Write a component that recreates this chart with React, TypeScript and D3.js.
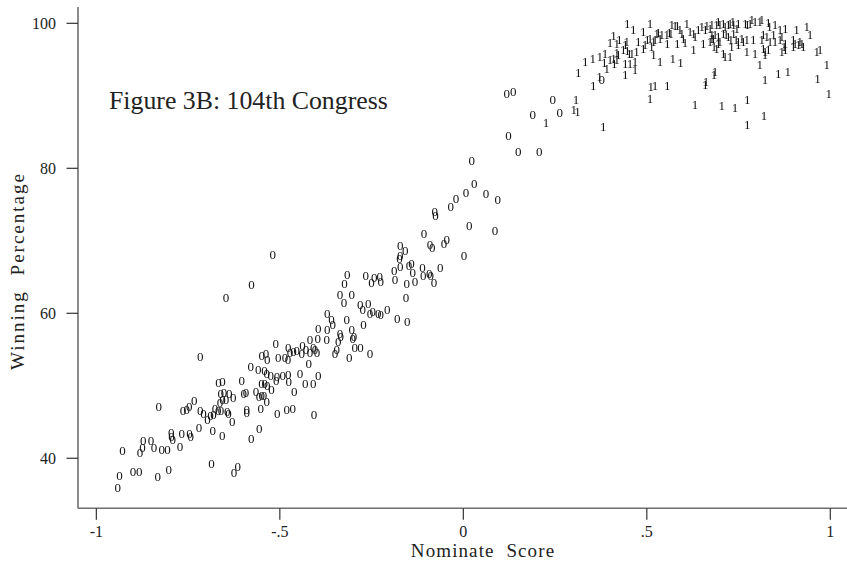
import React from 'react';
import * as d3 from 'd3';

const W = 847;
const H = 563;

// Democrats ("0") : nominate score, winning percentage
const demNominate = [
  -0.942, -0.937, -0.929, -0.900, -0.883, -0.881, -0.874, -0.872, -0.851, -0.843,
  -0.833, -0.830, -0.822, -0.806, -0.803, -0.796, -0.795, -0.792, -0.772, -0.767,
  -0.764, -0.754, -0.747, -0.746, -0.743, -0.733, -0.720, -0.717, -0.717, -0.708,
  -0.697, -0.689, -0.681, -0.683, -0.686, -0.677, -0.668, -0.660, -0.663, -0.656,
  -0.661, -0.652, -0.647, -0.638, -0.627, -0.643, -0.640, -0.630, -0.657, -0.667,
  -0.656, -0.625, -0.615, -0.604, -0.598, -0.592, -0.590, -0.590, -0.578, -0.565,
  -0.557, -0.556, -0.552, -0.549, -0.543, -0.550, -0.541, -0.534, -0.536, -0.523,
  -0.510, -0.507, -0.481, -0.476, -0.465, -0.461, -0.431, -0.409, -0.407, -0.647,
  -0.577, -0.519,
  -0.579, -0.559, -0.542, -0.536, -0.525, -0.508, -0.492, -0.477, -0.445, -0.421,
  -0.395, -0.549, -0.538, -0.534, -0.511, -0.504, -0.486, -0.478, -0.472, -0.477,
  -0.463, -0.454, -0.440, -0.438, -0.429, -0.418, -0.397, -0.409, -0.404, -0.399,
  -0.418, -0.395, -0.371, -0.359, -0.356, -0.371, -0.372, -0.336, -0.334, -0.341,
  -0.345, -0.350, -0.318, -0.304, -0.298, -0.301, -0.296, -0.280, -0.311, -0.254,
  -0.336, -0.325, -0.304, -0.281, -0.274, -0.259, -0.254, -0.247, -0.232, -0.225,
  -0.207, -0.180, -0.272, -0.316, -0.324, -0.266, -0.250, -0.243, -0.228, -0.225,
  -0.186,
  0.150, 0.207, 0.023, 0.030, 0.007, -0.020, -0.034, 0.062, 0.094, -0.078,
  -0.076, 0.016, 0.086, -0.107, -0.091, -0.085, -0.053, -0.045, 0.002, -0.172,
  -0.172, -0.174, -0.158, -0.172, -0.188, -0.148, -0.141, -0.138, -0.111, -0.109,
  -0.093, -0.089, -0.080, -0.063, -0.132, -0.154, -0.156, -0.153,
  0.118, 0.136, 0.244, 0.189, 0.263, 0.123, 0.377,
];
const demWinPct = [
  36.0, 37.55, 41.05, 38.1, 38.1, 40.73, 41.5, 42.45, 42.45, 41.42,
  37.42, 47.11, 41.21, 41.21, 38.48, 43.49, 42.98, 42.52, 41.6, 43.39,
  46.56, 46.73, 47.11, 43.44, 43.0, 47.94, 44.2, 46.56, 54.07, 46.2,
  45.32, 45.9, 45.97, 43.8, 39.28, 46.89, 46.56, 46.56, 47.67, 48.13,
  48.96, 49.04, 48.13, 48.96, 48.41, 46.42, 46.11, 45.07, 43.07, 50.42,
  50.52, 37.97, 38.84, 50.66, 48.87, 49.04, 46.66, 46.29, 42.66, 49.18,
  48.49, 44.13, 46.89, 48.59, 48.63, 50.34, 50.24, 50.07, 47.8, 49.42,
  50.66, 46.2, 46.75, 50.56, 46.89, 49.18, 50.24, 50.34, 46.01, 62.2,
  64.0, 68.08,
  52.63, 52.18, 52.04, 51.62, 51.42, 51.21, 51.35, 51.56, 51.72, 53.07,
  51.35, 54.11, 54.48, 53.65, 55.76, 53.93, 53.9, 53.65, 54.56, 55.31,
  54.7, 54.87, 54.48, 55.55, 54.93, 56.41, 56.55, 55.31, 55.0, 54.52,
  54.56, 57.9, 59.9, 59.14, 58.45, 57.69, 56.31, 57.24, 56.73, 56.08,
  54.93, 54.48, 59.17, 57.69, 56.77, 56.45, 55.31, 55.31, 53.93, 54.38,
  62.52, 61.46, 62.52, 61.14, 60.52, 61.38, 60.0, 60.18, 59.9, 59.76,
  60.55, 59.31, 58.45, 65.35, 64.11, 65.14, 64.18, 64.96, 65.04, 64.31,
  64.69,
  82.29, 82.29, 81.04, 77.83, 76.63, 75.86, 74.7, 76.45, 75.69, 74.01,
  73.42, 72.08, 71.35, 71.03, 69.42, 69.1, 69.65, 70.11, 67.9, 69.28,
  67.97, 67.49, 68.59, 66.45, 65.87, 66.52, 66.89, 65.6, 66.34, 65.14,
  65.51, 65.21, 64.22, 66.34, 64.35, 64.13, 62.11, 58.84,
  90.34, 90.56, 89.51, 87.35, 87.67, 84.45, 92.18,
];

// Republicans ("1")
const repNominate = [
  0.225, 0.307, 0.301, 0.311, 0.313, 0.332, 0.353, 0.354, 0.371, 0.372,
  0.381, 0.386, 0.384, 0.391, 0.400, 0.409, 0.411, 0.418, 0.422, 0.409,
  0.425, 0.418, 0.441, 0.445, 0.447, 0.436, 0.441, 0.441, 0.454, 0.452,
  0.459, 0.468, 0.468, 0.472, 0.447, 0.463, 0.477, 0.490, 0.490, 0.495,
  0.501, 0.509, 0.509, 0.513, 0.518, 0.518, 0.536, 0.571, 0.592, 0.527,
  0.531, 0.541, 0.536, 0.522, 0.554, 0.561, 0.565, 0.568, 0.577, 0.583,
  0.556, 0.583, 0.590, 0.595, 0.599, 0.604, 0.609, 0.618, 0.627, 0.631,
  0.640, 0.650, 0.659, 0.663, 0.672, 0.677, 0.681, 0.690, 0.695, 0.695,
  0.683, 0.627, 0.654, 0.672, 0.511, 0.522, 0.556, 0.509, 0.631, 0.686,
  0.683, 0.661, 0.659, 0.677, 0.695, 0.699, 0.708, 0.713, 0.722, 0.727,
  0.734, 0.736, 0.745, 0.749, 0.768, 0.774, 0.781, 0.786, 0.795, 0.808,
  0.813, 0.831, 0.834, 0.849, 0.863, 0.877, 0.908, 0.936, 0.677, 0.686,
  0.699, 0.708, 0.716, 0.722, 0.729, 0.736, 0.743, 0.749, 0.759, 0.763,
  0.772, 0.790, 0.813, 0.817, 0.827, 0.836, 0.845, 0.849, 0.863, 0.868,
  0.877, 0.899, 0.904, 0.917, 0.922, 0.945, 0.690, 0.731, 0.749, 0.817,
  0.822, 0.831, 0.874, 0.877, 0.899, 0.913, 0.926, 0.708, 0.713, 0.727,
  0.772, 0.795, 0.822, 0.868, 0.963, 0.972, 0.808, 0.990, 0.822, 0.858,
  0.884, 0.965, 0.996, 0.704, 0.740, 0.774, 0.819, 0.774, 0.400, 0.418,
];
const repWinPct = [
  86.29, 89.42, 88.13, 87.8, 93.18, 94.7, 95.17, 91.35, 92.63, 95.39,
  85.73, 95.86, 94.56, 93.79, 94.93, 95.17, 94.48, 94.93, 95.62, 98.24,
  97.79, 97.24, 97.0, 97.46, 96.22, 96.31, 94.48, 92.87, 94.48, 95.86,
  95.86, 94.7, 93.55, 96.08, 100.0, 99.07, 97.46, 98.84, 96.55, 97.0,
  97.69, 100.0, 97.93, 96.77, 97.46, 95.62, 94.7, 95.17, 94.56, 98.52,
  98.7, 98.38, 97.93, 97.69, 98.38, 98.7, 98.62, 99.76, 99.62, 99.62,
  97.24, 97.24, 99.07, 98.52, 97.93, 97.32, 100.0, 98.84, 98.62, 98.15,
  99.07, 99.53, 99.07, 99.62, 99.31, 98.38, 97.93, 99.76, 98.15, 97.24,
  96.77, 96.31, 97.24, 97.46, 91.25, 91.35, 91.35, 89.65, 88.73, 93.32,
  92.87, 91.94, 91.49, 99.76, 100.22, 99.76, 100.0, 99.53, 99.76, 100.0,
  100.22, 99.76, 99.31, 99.9, 100.0, 99.76, 100.0, 100.45, 100.22, 100.22,
  100.45, 100.08, 99.53, 99.76, 99.07, 99.31, 99.07, 99.53, 97.93, 98.38,
  97.46, 98.62, 98.38, 98.15, 97.69, 98.62, 97.69, 97.46, 97.93, 97.46,
  97.69, 97.69, 97.69, 98.38, 98.15, 97.46, 98.38, 97.46, 97.69, 98.15,
  97.24, 97.69, 97.24, 97.46, 97.24, 98.38, 96.55, 96.77, 97.0, 96.55,
  96.08, 96.41, 96.77, 96.41, 96.77, 97.0, 96.77, 95.86, 95.39, 95.39,
  96.08, 95.86, 95.62, 96.08, 96.08, 96.31, 94.24, 94.24, 92.18, 93.1,
  93.32, 92.41, 90.24, 88.59, 88.35, 89.42, 87.21, 85.97, 97.4, 96.0,
];

const xTicks = [-1, -0.5, 0, 0.5, 1];
const xTickLabels = ['-1', '-.5', '0', '.5', '1'];
const yTicks = [40, 60, 80, 100];
const yTickLabels = ['40', '60', '80', '100'];

const titleText = 'Figure 3B: 104th Congress';
const xTitle = 'Nominate Score';
const yTitle = 'Winning Percentage';

const FONT = '"Liberation Serif", "Times New Roman", serif';

export default function App() {
  const x = d3.scaleLinear().domain([-1.05, 1.0455]).range([78, 847]);
  const y = d3.scaleLinear().domain([33.1, 102.25]).range([508.3, 7]);
  const [x0, x1] = x.range();
  const [yb, yt] = y.range();

  const dem = demNominate.map((v, i) => [v, demWinPct[i]]);
  const rep = repNominate.map((v, i) => [v, repWinPct[i]]);

  return (
    <svg
      width={W}
      height={H}
      viewBox={`0 0 ${W} ${H}`}
      style={{ position: 'absolute', left: 0, top: 0, background: '#fff' }}
      fontFamily={FONT}
    >
      <rect x={0} y={0} width={W} height={H} fill="#fff" />
      {/* axes */}
      <line x1={x0} x2={x0} y1={yt} y2={yb} stroke="#6e6e6e" strokeWidth={1.6} />
      <line x1={x0} x2={x1} y1={yb} y2={yb} stroke="#6e6e6e" strokeWidth={1.6} />
      {yTicks.map((t, i) => (
        <g key={'yt' + t}>
          <line x1={x0 - 11.5} x2={x0} y1={y(t)} y2={y(t)} stroke="#333" strokeWidth={1.2} />
          <text x={56} y={y(t)} dy="0.34em" textAnchor="end" fontSize={16} fill="#222">
            {yTickLabels[i]}
          </text>
        </g>
      ))}
      {xTicks.map((t, i) => (
        <g key={'xt' + t}>
          <line x1={x(t)} x2={x(t)} y1={yb} y2={yb + 11.5} stroke="#333" strokeWidth={1.2} />
          <text x={x(t)} y={537} textAnchor="middle" fontSize={16} fill="#222">
            {xTickLabels[i]}
          </text>
        </g>
      ))}
      <text x={483} y={557} textAnchor="middle" fontSize={19} letterSpacing={1.1} wordSpacing={6} fill="#222">
        {xTitle}
      </text>
      <text
        transform={`translate(24, 271) rotate(-90)`}
        textAnchor="middle"
        fontSize={19}
        letterSpacing={2}
        wordSpacing={8}
        fill="#222"
      >
        {yTitle}
      </text>
      <text x={109} y={109} fontSize={25.8} fill="#222">
        {titleText}
      </text>
      {/* markers */}
      <g fontSize={13} fill="#111" textAnchor="middle" style={{ opacity: 0.999, willChange: 'transform' }}>
        {dem.map((d, i) => (
          <text key={'d' + i} x={x(d[0])} y={y(d[1])} dy="0.34em">0</text>
        ))}
        {rep.map((d, i) => (
          <text key={'r' + i} x={x(d[0])} y={y(d[1])} dy="0.34em">1</text>
        ))}
      </g>
    </svg>
  );
}
